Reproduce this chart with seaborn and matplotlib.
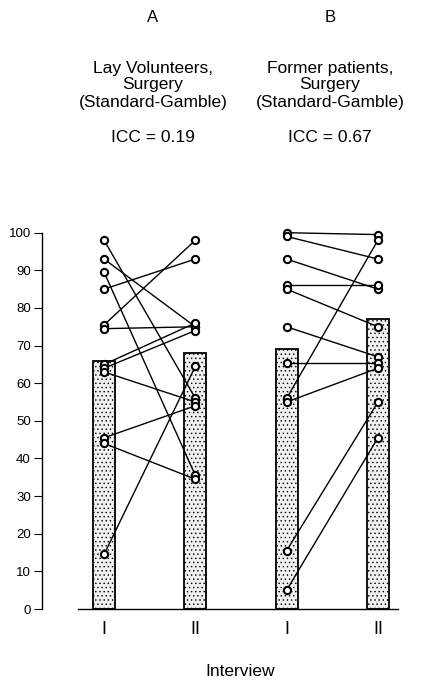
import numpy as np
import pandas as pd
import matplotlib
matplotlib.use("Agg")
import matplotlib.pyplot as plt
import seaborn as sns

# ---- data ----
groups = ["A-I", "A-II", "B-I", "B-II"]
tick_labels = ["I", "II", "I", "II"]
bar_heights = [66, 68, 69, 77]

a_interview1 = [98, 93, 89.5, 85, 75.5, 74.5, 65, 64, 63, 45.5, 44, 14.5]
a_interview2 = [56, 75, 35.5, 93, 98, 75, 76, 74, 55, 54, 34.5, 64.5]
b_interview1 = [100, 99, 93, 86, 85, 75, 65.5, 56, 55, 15.5, 5]
b_interview2 = [99.5, 93, 85, 86, 75, 67, 65.5, 98, 64, 55, 45.5]

panel_letters = ["A", "B"]
panel_titles = [["Lay Volunteers,", "Surgery", "(Standard-Gamble)"],
                ["Former patients,", "Surgery", "(Standard-Gamble)"]]
icc_texts = ["ICC = 0.19", "ICC = 0.67"]
x_label = "Interview"

# ---- build tables ----
pos = {g: i for i, g in enumerate(groups)}
rows = []
for k, v in enumerate(a_interview1):
    rows.append(("A%d" % k, pos["A-I"], v))
    rows.append(("A%d" % k, pos["A-II"], a_interview2[k]))
for k, v in enumerate(b_interview1):
    rows.append(("B%d" % k, pos["B-I"], v))
    rows.append(("B%d" % k, pos["B-II"], b_interview2[k]))
pairs = pd.DataFrame(rows, columns=["subject", "pos", "value"])
bars_df = pd.DataFrame({"group": groups, "value": bar_heights})

sns.set_style("ticks")
plt.rcParams["font.family"] = ["Liberation Sans", "DejaVu Sans"]
plt.rcParams["hatch.linewidth"] = 0.5
for key in ["text.color", "axes.labelcolor", "xtick.color", "ytick.color", "axes.edgecolor"]:
    plt.rcParams[key] = "black"

W, H = 422, 684
fig = plt.figure(figsize=(W / 100, H / 100), dpi=100)
ax = fig.add_axes([42 / W, 1 - 609 / H, (398 - 42) / W, (609 - 232.7) / H])

sns.barplot(data=bars_df, x="group", y="value", order=groups, color="#f0f0f0",
            saturation=1, width=0.24, errorbar=None, edgecolor="black",
            linewidth=1.3, hatch="....", ax=ax, zorder=1)

sns.lineplot(data=pairs, x="pos", y="value", units="subject", estimator=None,
             color="black", linewidth=1.0, legend=False, ax=ax, zorder=3)
for ln in ax.lines:
    ln.set_clip_on(False)

sns.scatterplot(data=pairs, x="pos", y="value", marker="o", s=27,
                facecolor="white", edgecolor="black", linewidth=1.5,
                legend=False, ax=ax, zorder=4, clip_on=False)

ax.set_xlim(-0.68, 3.22)
ax.set_ylim(0, 100)
ax.set_xticks(range(len(groups)))
ax.set_xticklabels(tick_labels, fontsize=13)
ax.tick_params(axis="x", length=0, pad=9)
ax.set_yticks(range(0, 101, 10))
ax.tick_params(axis="y", labelsize=9.5, length=6, width=0.8, pad=2)
ax.set_xlabel("")
ax.set_ylabel("")
sns.despine(ax=ax)
ax.spines["left"].set_bounds(0, 100)
ax.spines["bottom"].set_bounds(-0.285, 3.22)
ax.spines["left"].set_linewidth(1.0)
ax.spines["bottom"].set_linewidth(1.0)

# ---- header texts ----
centers = [153 / W, 330 / W]
for c, letter, lines, icc in zip(centers, panel_letters, panel_titles, icc_texts):
    fig.text(c, 1 - 17 / H, letter, ha="center", va="center", fontsize=12)
    for j, t in enumerate(lines):
        fig.text(c, 1 - (68 + 17 * j) / H, t, ha="center", va="center", fontsize=12.5)
    fig.text(c, 1 - 138 / H, icc, ha="center", va="center", fontsize=12.5)

fig.text(240 / W, 1 - 672 / H, x_label, ha="center", va="center", fontsize=12.5)

fig.savefig("out.png", dpi=100)
